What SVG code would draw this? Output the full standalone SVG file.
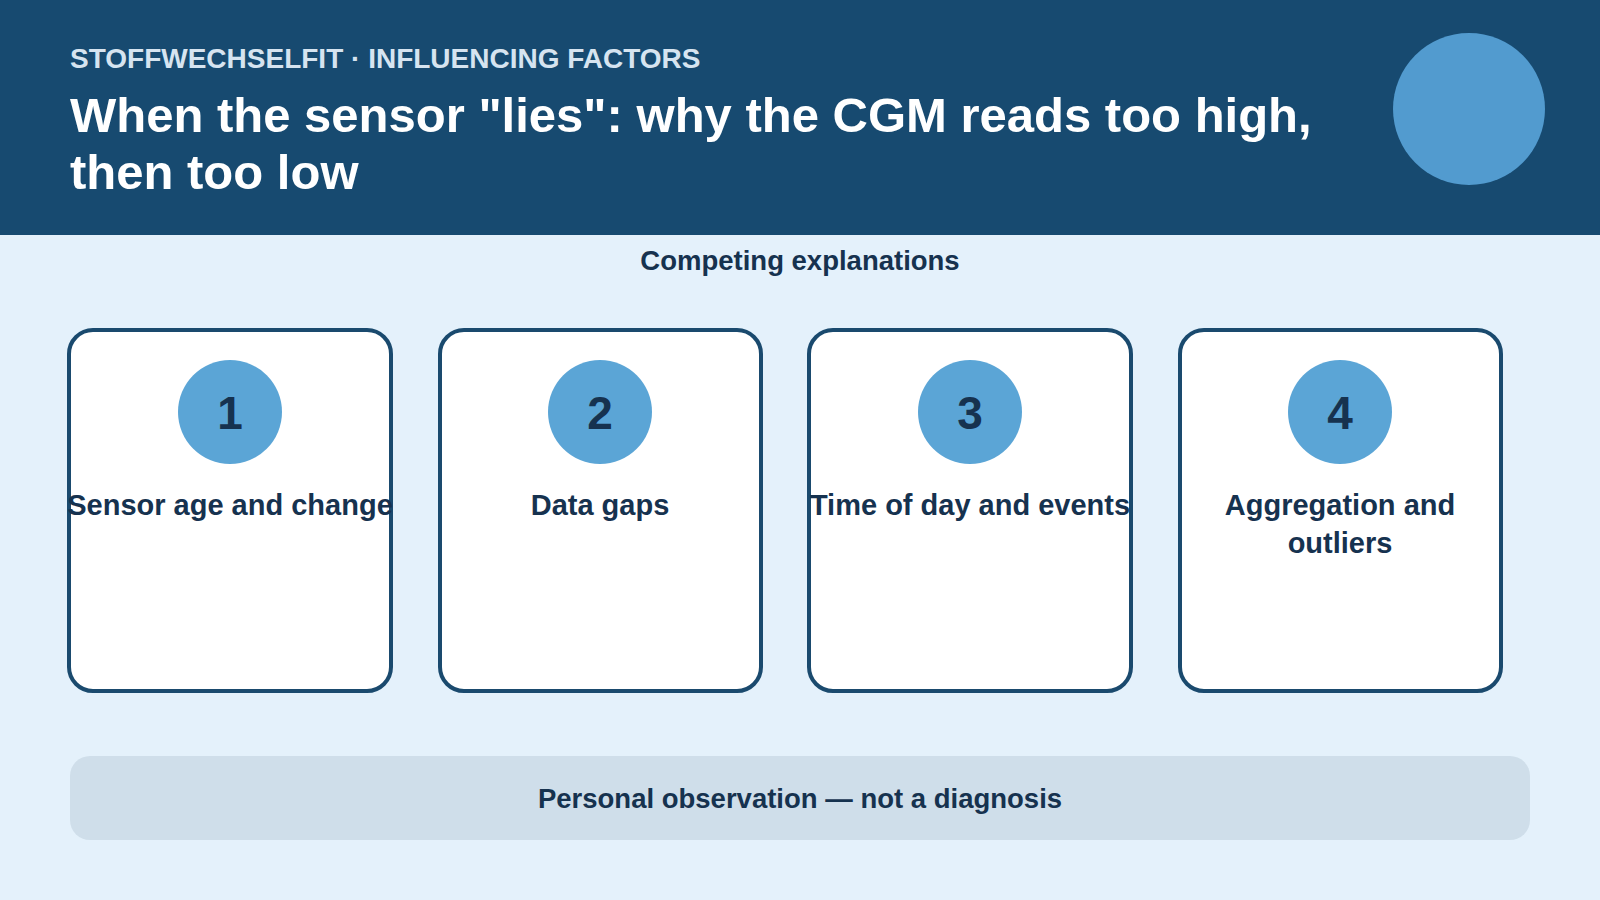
<svg xmlns="http://www.w3.org/2000/svg" width="1600" height="900" viewBox="0 0 1600 900">
<style>
text{font-family:"Liberation Sans",Arial,sans-serif;font-weight:bold}
.card{fill:#fff;stroke:#1a4a6e;stroke-width:4}
.num{fill:#5ba5d6}
.n{font-size:46px;fill:#16324f;text-anchor:middle}
.l{font-size:29px;fill:#16324f;text-anchor:middle}
</style>
<rect width="1600" height="900" fill="#e4f1fb"/>
<g id="header">
<rect width="1600" height="235" fill="#174a70"/>
<text x="70" y="68" font-size="28" fill="#d6e4f0">STOFFWECHSELFIT · INFLUENCING FACTORS</text>
<text x="70" y="132" font-size="49" fill="#fff">When the sensor "lies": why the CGM reads too high,</text>
<text x="70" y="189" font-size="49" fill="#fff">then too low</text>
<circle cx="1469" cy="109" r="76" fill="#529bcf"/>
</g>
<text x="800" y="270" font-size="27.5" fill="#16324f" text-anchor="middle">Competing explanations</text>
<g id="card1"><rect class="card" x="69" y="330" width="322" height="361" rx="24"/><circle class="num" cx="230" cy="412" r="52"/><text class="n" x="230" y="429">1</text><text class="l" x="230" y="515">Sensor age and change</text></g>
<g id="card2"><rect class="card" x="440" y="330" width="321" height="361" rx="24"/><circle class="num" cx="600" cy="412" r="52"/><text class="n" x="600" y="429">2</text><text class="l" x="600" y="515">Data gaps</text></g>
<g id="card3"><rect class="card" x="809" y="330" width="322" height="361" rx="24"/><circle class="num" cx="970" cy="412" r="52"/><text class="n" x="970" y="429">3</text><text class="l" x="970" y="515">Time of day and events</text></g>
<g id="card4"><rect class="card" x="1180" y="330" width="321" height="361" rx="24"/><circle class="num" cx="1340" cy="412" r="52"/><text class="n" x="1340" y="429">4</text><text class="l" x="1340" y="515">Aggregation and</text><text class="l" x="1340" y="553">outliers</text></g>
<g id="connectors"/>
<g id="footer"><rect x="70" y="756" width="1460" height="84" rx="20" fill="#cfdeea"/><text x="800" y="808" font-size="27.5" fill="#16324f" text-anchor="middle">Personal observation — not a diagnosis</text></g>
</svg>
